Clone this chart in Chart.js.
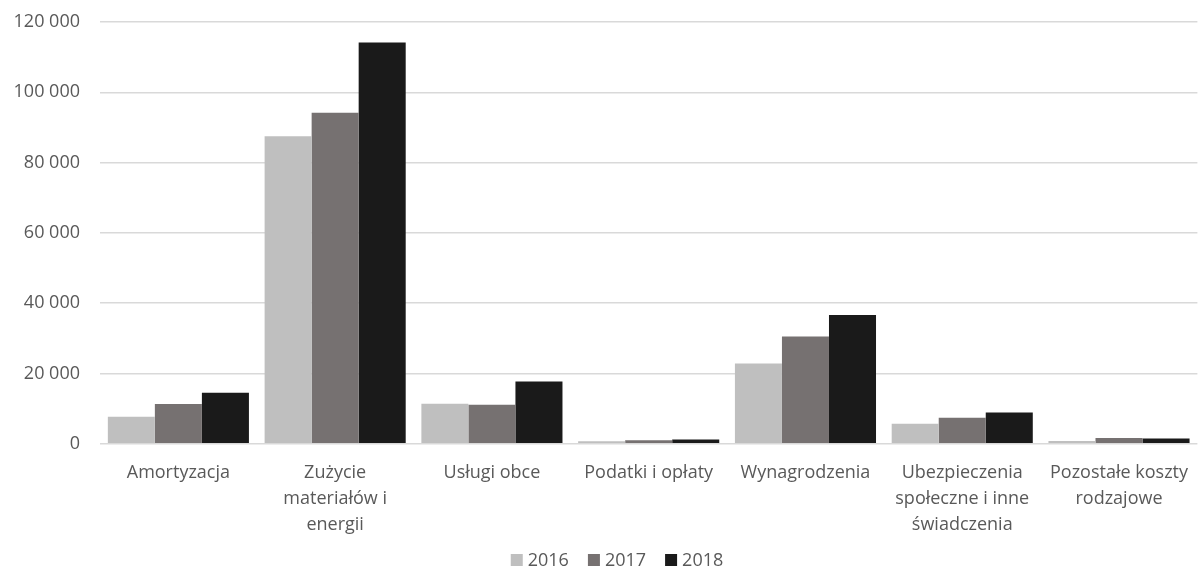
<!DOCTYPE html>
<html lang="pl">
<head>
<meta charset="utf-8">
<title>Koszty rodzajowe 2016–2018</title>
<script src="https://cdn.jsdelivr.net/npm/chart.js@4/dist/chart.umd.min.js"></script>
<style>
  html, body { margin: 0; padding: 0; background: #ffffff; overflow: hidden; }
  #wrap { position: relative; width: 1204px; height: 567px; }
</style>
</head>
<body>
<div id="wrap"><canvas id="chart"></canvas></div>
<script>
// Cost categories (multi-line labels as drawn under the axis)
const categories = [
  ['Amortyzacja'],
  ['Zużycie', 'materiałów i', 'energii'],
  ['Usługi obce'],
  ['Podatki i opłaty'],
  ['Wynagrodzenia'],
  ['Ubezpieczenia', 'społeczne i inne', 'świadczenia'],
  ['Pozostałe koszty', 'rodzajowe']
];

const years = ['2016', '2017', '2018'];

const values2016 = [7700, 87500, 11400, 700, 22800, 5700, 800];
const values2017 = [11300, 94200, 11100, 1000, 30500, 7400, 1600];
const values2018 = [14500, 114200, 17700, 1200, 36600, 8900, 1500];

const yTicks = [0, 20000, 40000, 60000, 80000, 100000, 120000];

const seriesColors = ['#bfbfbf', '#767171', '#1a1a1a'];
const textColor = '#595959';
const gridColor = '#d9d9d9';
const fontFamily = '"Open Sans", "DejaVu Sans", sans-serif';

function formatThousands(v) {
  return String(v).replace(/\B(?=(\d{3})+(?!\d))/g, ' ');
}

const seriesValues = [values2016, values2017, values2018];

// Compact legend row under the chart: small square, tight gap, label
const bottomLegend = {
  id: 'bottomLegend',
  afterDraw(chart) {
    const ctx = chart.ctx;
    const box = 12, gap = 5, spacing = 19;
    const centerX = 617, centerY = 560;
    ctx.save();
    ctx.font = '18px ' + fontFamily;
    ctx.textBaseline = 'middle';
    ctx.textAlign = 'left';
    const items = chart.data.datasets.map(ds => ({
      text: ds.label,
      color: ds.backgroundColor,
      w: ctx.measureText(ds.label).width
    }));
    const total = items.reduce((s, it) => s + box + gap + it.w, 0) + spacing * (items.length - 1);
    let x = centerX - total / 2;
    items.forEach(it => {
      ctx.fillStyle = it.color;
      ctx.fillRect(x, centerY - box / 2, box, box);
      x += box + gap;
      ctx.fillStyle = textColor;
      ctx.fillText(it.text, x, centerY + 1);
      x += it.w + spacing;
    });
    ctx.restore();
  }
};

new Chart(document.getElementById('chart'), {
  type: 'bar',
  data: {
    labels: categories,
    datasets: years.map((y, i) => ({
      label: y,
      data: seriesValues[i],
      backgroundColor: seriesColors[i],
      borderWidth: 0,
      categoryPercentage: 0.9,
      barPercentage: 1.0
    }))
  },
  plugins: [bottomLegend],
  options: {
    responsive: true,
    maintainAspectRatio: false,
    animation: false,
    layout: { padding: { top: 22, left: 0, right: 0, bottom: 13 } },
    plugins: {
      tooltip: { enabled: false },
      legend: { display: false }
    },
    scales: {
      x: {
        grid: { display: false, drawTicks: false },
        border: { display: false },
        ticks: {
          color: textColor,
          font: { family: fontFamily, size: 18, lineHeight: 1.45 },
          padding: 16,
          autoSkip: false,
          maxRotation: 0,
          minRotation: 0
        }
      },
      y: {
        min: 0,
        max: 120000,
        afterBuildTicks: (scale) => { scale.ticks = yTicks.map(v => ({ value: v })); },
        afterFit: (scale) => {
          scale.width = 100;
          scale.paddingTop = 0;
          scale.paddingBottom = 0;
        },
        grid: { color: gridColor, lineWidth: 1.4, drawTicks: false },
        border: { display: false },
        ticks: {
          color: textColor,
          font: { family: fontFamily, size: 18 },
          padding: 20,
          callback: (v) => formatThousands(v)
        }
      }
    }
  }
});
</script>
</body>
</html>
